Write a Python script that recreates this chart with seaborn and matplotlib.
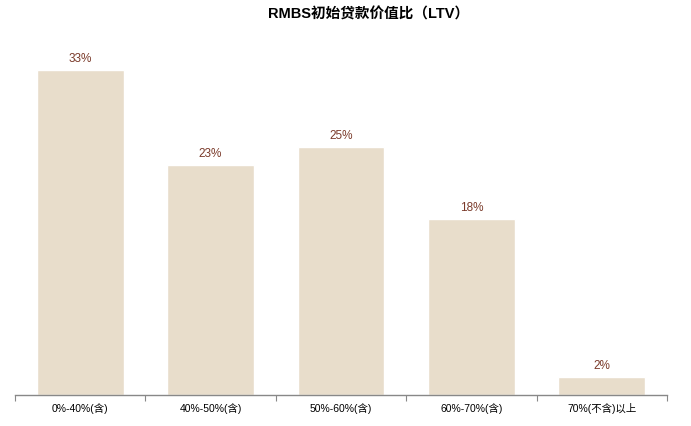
import matplotlib
matplotlib.use("Agg")
import matplotlib.pyplot as plt
import pandas as pd
import seaborn as sns

# Data
categories = ["0%-40%(含)", "40%-50%(含)", "50%-60%(含)", "60%-70%(含)", "70%(不含)以上"]
ltv_share = [33.0, 23.4, 25.2, 17.9, 1.8]

BAR_COLOR = "#E8DDCB"
LABEL_COLOR = "#7A3A2A"

sns.set_style("white")
plt.rcParams["font.family"] = ["Liberation Sans", "Noto Sans CJK SC", "DejaVu Sans"]

df = pd.DataFrame({"range": categories, "share": ltv_share})

fig = plt.figure(figsize=(6.91, 4.26), dpi=100)
ax = fig.add_axes([15 / 691, 31 / 426, 652 / 691, 354.6 / 426])

sns.barplot(data=df, x="range", y="share", color=BAR_COLOR, width=0.667,
            saturation=1, ax=ax)

for i, v in enumerate(ltv_share):
    ax.text(i, v + 0.5, f"{v:.0f}%", ha="center", va="bottom",
            fontsize=8.5, color=LABEL_COLOR)

ax.set_ylim(0, 36)
ax.set_xlim(-0.5, len(categories) - 0.5)
ax.set_xlabel("")
ax.set_ylabel("")
ax.set_yticks([])
for side in ["top", "right", "left"]:
    ax.spines[side].set_visible(False)
ax.spines["bottom"].set_color("#888888")
ax.spines["bottom"].set_linewidth(1)

# tick marks at category boundaries, labels centred under bars
ax.set_xticks([i - 0.5 for i in range(len(categories) + 1)], minor=False)
ax.set_xticklabels([])
ax.tick_params(axis="x", which="major", direction="out", length=4,
               color="#888888", bottom=True)
ax.set_xticks(range(len(categories)), minor=True)
ax.set_xticklabels(categories, minor=True, fontsize=7.5, color="black")
ax.tick_params(axis="x", which="minor", length=0, pad=6)

fig.text(0.534, 0.965, "RMBS初始贷款价值比（LTV）", ha="center", va="center",
         fontsize=10.5, fontweight="bold", color="black")

fig.savefig("out.png", dpi=100)
